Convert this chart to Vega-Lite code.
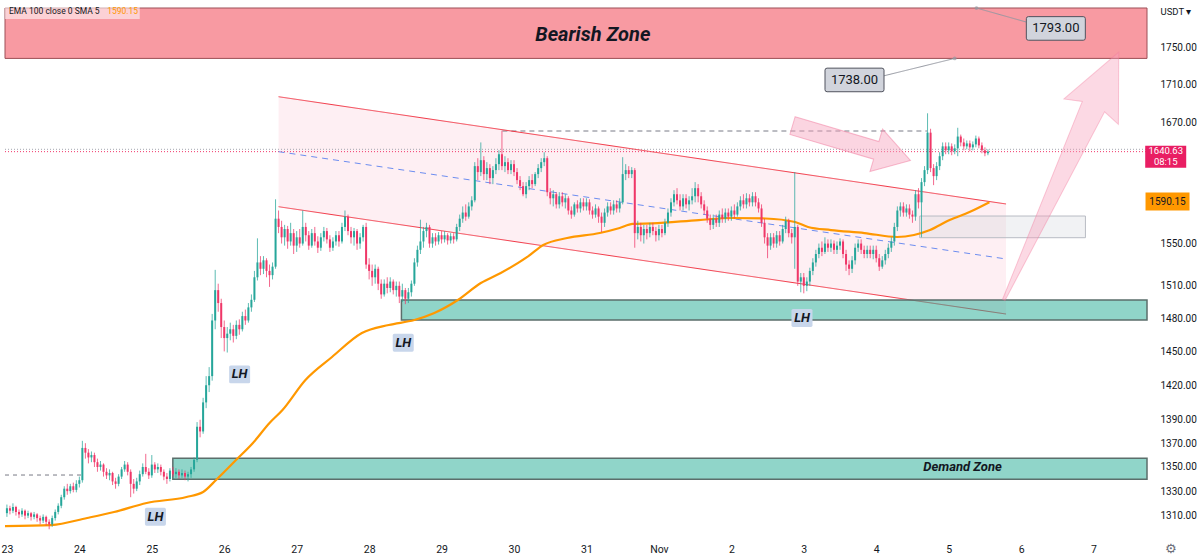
{
"$schema": "https://vega.github.io/schema/vega-lite/v6.json",
"width": 1152, "height": 537,
"autosize": {"type": "none"}, "padding": {"left": 0, "top": 0, "right": 48, "bottom": 22},
"background": "white",
"config": {"view": {"stroke": null}, "font": "Roboto"},
"datasets": {
"candles": [
{"t":"2022-10-23T00:00","o":1312,"h":1319,"l":1309,"c":1316},
{"t":"2022-10-23T01:00","o":1316,"h":1318,"l":1311,"c":1314},
{"t":"2022-10-23T02:00","o":1314,"h":1320,"l":1312,"c":1317},
{"t":"2022-10-23T03:00","o":1317,"h":1318,"l":1310,"c":1313},
{"t":"2022-10-23T04:00","o":1313,"h":1315,"l":1308,"c":1311},
{"t":"2022-10-23T05:00","o":1311,"h":1316,"l":1309,"c":1314},
{"t":"2022-10-23T06:00","o":1314,"h":1315,"l":1307,"c":1310},
{"t":"2022-10-23T07:00","o":1310,"h":1314,"l":1308,"c":1312},
{"t":"2022-10-23T08:00","o":1312,"h":1313,"l":1306,"c":1309},
{"t":"2022-10-23T09:00","o":1309,"h":1313,"l":1307,"c":1311},
{"t":"2022-10-23T10:00","o":1311,"h":1312,"l":1305,"c":1308},
{"t":"2022-10-23T11:00","o":1308,"h":1310,"l":1303,"c":1306},
{"t":"2022-10-23T12:00","o":1306,"h":1311,"l":1304,"c":1309},
{"t":"2022-10-23T13:00","o":1309,"h":1310,"l":1302,"c":1305},
{"t":"2022-10-23T14:00","o":1305,"h":1307,"l":1299,"c":1303},
{"t":"2022-10-23T15:00","o":1303,"h":1310,"l":1301,"c":1308},
{"t":"2022-10-23T16:00","o":1308,"h":1315,"l":1306,"c":1313},
{"t":"2022-10-23T17:00","o":1313,"h":1320,"l":1311,"c":1318},
{"t":"2022-10-23T18:00","o":1318,"h":1327,"l":1316,"c":1325},
{"t":"2022-10-23T19:00","o":1325,"h":1334,"l":1323,"c":1332},
{"t":"2022-10-23T20:00","o":1332,"h":1336,"l":1327,"c":1330},
{"t":"2022-10-23T21:00","o":1330,"h":1336,"l":1328,"c":1334},
{"t":"2022-10-23T22:00","o":1334,"h":1337,"l":1329,"c":1331},
{"t":"2022-10-23T23:00","o":1331,"h":1339,"l":1329,"c":1336},
{"t":"2022-10-24T00:00","o":1336,"h":1342,"l":1333,"c":1339},
{"t":"2022-10-24T01:00","o":1339,"h":1372,"l":1337,"c":1366},
{"t":"2022-10-24T02:00","o":1366,"h":1370,"l":1357,"c":1362},
{"t":"2022-10-24T03:00","o":1362,"h":1365,"l":1353,"c":1358},
{"t":"2022-10-24T04:00","o":1358,"h":1363,"l":1354,"c":1360},
{"t":"2022-10-24T05:00","o":1360,"h":1362,"l":1350,"c":1354},
{"t":"2022-10-24T06:00","o":1354,"h":1357,"l":1346,"c":1350},
{"t":"2022-10-24T07:00","o":1350,"h":1355,"l":1347,"c":1352},
{"t":"2022-10-24T08:00","o":1352,"h":1353,"l":1342,"c":1346},
{"t":"2022-10-24T09:00","o":1346,"h":1349,"l":1340,"c":1343},
{"t":"2022-10-24T10:00","o":1343,"h":1348,"l":1339,"c":1345},
{"t":"2022-10-24T11:00","o":1345,"h":1346,"l":1335,"c":1338},
{"t":"2022-10-24T12:00","o":1338,"h":1341,"l":1332,"c":1336},
{"t":"2022-10-24T13:00","o":1336,"h":1344,"l":1334,"c":1342},
{"t":"2022-10-24T14:00","o":1342,"h":1350,"l":1340,"c":1348},
{"t":"2022-10-24T15:00","o":1348,"h":1355,"l":1346,"c":1352},
{"t":"2022-10-24T16:00","o":1352,"h":1354,"l":1343,"c":1346},
{"t":"2022-10-24T17:00","o":1346,"h":1348,"l":1325,"c":1336},
{"t":"2022-10-24T18:00","o":1336,"h":1340,"l":1328,"c":1332},
{"t":"2022-10-24T19:00","o":1332,"h":1341,"l":1330,"c":1338},
{"t":"2022-10-24T20:00","o":1338,"h":1347,"l":1335,"c":1344},
{"t":"2022-10-24T21:00","o":1344,"h":1353,"l":1342,"c":1350},
{"t":"2022-10-24T22:00","o":1350,"h":1361,"l":1344,"c":1346},
{"t":"2022-10-24T23:00","o":1346,"h":1349,"l":1340,"c":1343},
{"t":"2022-10-25T00:00","o":1343,"h":1360,"l":1341,"c":1352},
{"t":"2022-10-25T01:00","o":1352,"h":1354,"l":1345,"c":1348},
{"t":"2022-10-25T02:00","o":1348,"h":1353,"l":1345,"c":1350},
{"t":"2022-10-25T03:00","o":1350,"h":1352,"l":1343,"c":1346},
{"t":"2022-10-25T04:00","o":1346,"h":1348,"l":1339,"c":1342},
{"t":"2022-10-25T05:00","o":1342,"h":1345,"l":1336,"c":1340},
{"t":"2022-10-25T06:00","o":1340,"h":1349,"l":1338,"c":1347},
{"t":"2022-10-25T07:00","o":1347,"h":1350,"l":1342,"c":1344},
{"t":"2022-10-25T08:00","o":1344,"h":1349,"l":1341,"c":1346},
{"t":"2022-10-25T09:00","o":1346,"h":1348,"l":1340,"c":1343},
{"t":"2022-10-25T10:00","o":1343,"h":1348,"l":1341,"c":1345},
{"t":"2022-10-25T11:00","o":1345,"h":1347,"l":1339,"c":1342},
{"t":"2022-10-25T12:00","o":1342,"h":1346,"l":1338,"c":1344},
{"t":"2022-10-25T13:00","o":1344,"h":1350,"l":1341,"c":1348},
{"t":"2022-10-25T14:00","o":1348,"h":1358,"l":1346,"c":1356},
{"t":"2022-10-25T15:00","o":1356,"h":1388,"l":1354,"c":1384},
{"t":"2022-10-25T16:00","o":1384,"h":1390,"l":1375,"c":1380},
{"t":"2022-10-25T17:00","o":1380,"h":1409,"l":1378,"c":1405},
{"t":"2022-10-25T18:00","o":1405,"h":1428,"l":1400,"c":1420},
{"t":"2022-10-25T19:00","o":1420,"h":1436,"l":1414,"c":1428},
{"t":"2022-10-25T20:00","o":1428,"h":1484,"l":1424,"c":1478},
{"t":"2022-10-25T21:00","o":1478,"h":1525,"l":1470,"c":1506},
{"t":"2022-10-25T22:00","o":1506,"h":1512,"l":1486,"c":1494},
{"t":"2022-10-25T23:00","o":1494,"h":1498,"l":1462,"c":1472},
{"t":"2022-10-26T00:00","o":1472,"h":1478,"l":1450,"c":1462},
{"t":"2022-10-26T01:00","o":1462,"h":1472,"l":1449,"c":1466},
{"t":"2022-10-26T02:00","o":1466,"h":1476,"l":1460,"c":1470},
{"t":"2022-10-26T03:00","o":1470,"h":1474,"l":1458,"c":1464},
{"t":"2022-10-26T04:00","o":1464,"h":1478,"l":1461,"c":1474},
{"t":"2022-10-26T05:00","o":1474,"h":1479,"l":1465,"c":1470},
{"t":"2022-10-26T06:00","o":1470,"h":1486,"l":1468,"c":1482},
{"t":"2022-10-26T07:00","o":1482,"h":1488,"l":1474,"c":1478},
{"t":"2022-10-26T08:00","o":1478,"h":1494,"l":1476,"c":1490},
{"t":"2022-10-26T09:00","o":1490,"h":1502,"l":1486,"c":1497},
{"t":"2022-10-26T10:00","o":1497,"h":1524,"l":1495,"c":1518},
{"t":"2022-10-26T11:00","o":1518,"h":1555,"l":1515,"c":1532},
{"t":"2022-10-26T12:00","o":1532,"h":1538,"l":1520,"c":1526},
{"t":"2022-10-26T13:00","o":1526,"h":1538,"l":1521,"c":1534},
{"t":"2022-10-26T14:00","o":1534,"h":1536,"l":1518,"c":1524},
{"t":"2022-10-26T15:00","o":1524,"h":1530,"l":1509,"c":1520},
{"t":"2022-10-26T16:00","o":1520,"h":1532,"l":1516,"c":1528},
{"t":"2022-10-26T17:00","o":1528,"h":1593,"l":1526,"c":1574},
{"t":"2022-10-26T18:00","o":1574,"h":1582,"l":1560,"c":1566},
{"t":"2022-10-26T19:00","o":1566,"h":1572,"l":1550,"c":1556},
{"t":"2022-10-26T20:00","o":1556,"h":1568,"l":1548,"c":1564},
{"t":"2022-10-26T21:00","o":1564,"h":1567,"l":1545,"c":1552},
{"t":"2022-10-26T22:00","o":1552,"h":1570,"l":1548,"c":1560},
{"t":"2022-10-26T23:00","o":1560,"h":1564,"l":1540,"c":1548},
{"t":"2022-10-27T00:00","o":1548,"h":1562,"l":1542,"c":1556},
{"t":"2022-10-27T01:00","o":1556,"h":1564,"l":1546,"c":1550},
{"t":"2022-10-27T02:00","o":1550,"h":1582,"l":1548,"c":1566},
{"t":"2022-10-27T03:00","o":1566,"h":1570,"l":1552,"c":1558},
{"t":"2022-10-27T04:00","o":1558,"h":1562,"l":1544,"c":1548},
{"t":"2022-10-27T05:00","o":1548,"h":1564,"l":1546,"c":1560},
{"t":"2022-10-27T06:00","o":1560,"h":1566,"l":1548,"c":1552},
{"t":"2022-10-27T07:00","o":1552,"h":1557,"l":1541,"c":1546},
{"t":"2022-10-27T08:00","o":1546,"h":1560,"l":1543,"c":1556},
{"t":"2022-10-27T09:00","o":1556,"h":1566,"l":1552,"c":1562},
{"t":"2022-10-27T10:00","o":1562,"h":1565,"l":1550,"c":1554},
{"t":"2022-10-27T11:00","o":1554,"h":1558,"l":1542,"c":1546},
{"t":"2022-10-27T12:00","o":1546,"h":1556,"l":1543,"c":1552},
{"t":"2022-10-27T13:00","o":1552,"h":1562,"l":1548,"c":1558},
{"t":"2022-10-27T14:00","o":1558,"h":1562,"l":1547,"c":1552},
{"t":"2022-10-27T15:00","o":1552,"h":1570,"l":1550,"c":1566},
{"t":"2022-10-27T16:00","o":1566,"h":1582,"l":1562,"c":1576},
{"t":"2022-10-27T17:00","o":1576,"h":1578,"l":1558,"c":1562},
{"t":"2022-10-27T18:00","o":1562,"h":1566,"l":1550,"c":1556},
{"t":"2022-10-27T19:00","o":1556,"h":1565,"l":1548,"c":1562},
{"t":"2022-10-27T20:00","o":1562,"h":1564,"l":1544,"c":1550},
{"t":"2022-10-27T21:00","o":1550,"h":1560,"l":1545,"c":1556},
{"t":"2022-10-27T22:00","o":1556,"h":1568,"l":1552,"c":1566},
{"t":"2022-10-27T23:00","o":1566,"h":1570,"l":1526,"c":1530},
{"t":"2022-10-28T00:00","o":1530,"h":1536,"l":1516,"c":1524},
{"t":"2022-10-28T01:00","o":1524,"h":1530,"l":1510,"c":1518},
{"t":"2022-10-28T02:00","o":1518,"h":1530,"l":1512,"c":1526},
{"t":"2022-10-28T03:00","o":1526,"h":1528,"l":1506,"c":1512},
{"t":"2022-10-28T04:00","o":1512,"h":1516,"l":1498,"c":1502},
{"t":"2022-10-28T05:00","o":1502,"h":1516,"l":1500,"c":1512},
{"t":"2022-10-28T06:00","o":1512,"h":1518,"l":1503,"c":1508},
{"t":"2022-10-28T07:00","o":1508,"h":1518,"l":1504,"c":1514},
{"t":"2022-10-28T08:00","o":1514,"h":1516,"l":1502,"c":1506},
{"t":"2022-10-28T09:00","o":1506,"h":1514,"l":1500,"c":1510},
{"t":"2022-10-28T10:00","o":1510,"h":1514,"l":1494,"c":1500},
{"t":"2022-10-28T11:00","o":1500,"h":1512,"l":1495,"c":1506},
{"t":"2022-10-28T12:00","o":1506,"h":1508,"l":1493,"c":1498},
{"t":"2022-10-28T13:00","o":1498,"h":1508,"l":1494,"c":1504},
{"t":"2022-10-28T14:00","o":1504,"h":1515,"l":1500,"c":1512},
{"t":"2022-10-28T15:00","o":1512,"h":1536,"l":1510,"c":1532},
{"t":"2022-10-28T16:00","o":1532,"h":1548,"l":1528,"c":1544},
{"t":"2022-10-28T17:00","o":1544,"h":1573,"l":1540,"c":1552},
{"t":"2022-10-28T18:00","o":1552,"h":1566,"l":1546,"c":1562},
{"t":"2022-10-28T19:00","o":1562,"h":1570,"l":1556,"c":1566},
{"t":"2022-10-28T20:00","o":1566,"h":1568,"l":1546,"c":1550},
{"t":"2022-10-28T21:00","o":1550,"h":1560,"l":1546,"c":1556},
{"t":"2022-10-28T22:00","o":1556,"h":1560,"l":1548,"c":1552},
{"t":"2022-10-28T23:00","o":1552,"h":1561,"l":1549,"c":1558},
{"t":"2022-10-29T00:00","o":1558,"h":1562,"l":1550,"c":1554},
{"t":"2022-10-29T01:00","o":1554,"h":1562,"l":1551,"c":1558},
{"t":"2022-10-29T02:00","o":1558,"h":1560,"l":1549,"c":1553},
{"t":"2022-10-29T03:00","o":1553,"h":1560,"l":1550,"c":1557},
{"t":"2022-10-29T04:00","o":1557,"h":1560,"l":1550,"c":1554},
{"t":"2022-10-29T05:00","o":1554,"h":1569,"l":1552,"c":1566},
{"t":"2022-10-29T06:00","o":1566,"h":1578,"l":1562,"c":1574},
{"t":"2022-10-29T07:00","o":1574,"h":1586,"l":1570,"c":1580},
{"t":"2022-10-29T08:00","o":1580,"h":1588,"l":1572,"c":1576},
{"t":"2022-10-29T09:00","o":1576,"h":1590,"l":1574,"c":1586},
{"t":"2022-10-29T10:00","o":1586,"h":1596,"l":1582,"c":1592},
{"t":"2022-10-29T11:00","o":1592,"h":1630,"l":1590,"c":1626},
{"t":"2022-10-29T12:00","o":1626,"h":1634,"l":1612,"c":1620},
{"t":"2022-10-29T13:00","o":1620,"h":1650,"l":1616,"c":1632},
{"t":"2022-10-29T14:00","o":1632,"h":1636,"l":1612,"c":1618},
{"t":"2022-10-29T15:00","o":1618,"h":1630,"l":1612,"c":1624},
{"t":"2022-10-29T16:00","o":1624,"h":1628,"l":1608,"c":1614},
{"t":"2022-10-29T17:00","o":1614,"h":1626,"l":1608,"c":1622},
{"t":"2022-10-29T18:00","o":1622,"h":1634,"l":1618,"c":1628},
{"t":"2022-10-29T19:00","o":1628,"h":1642,"l":1622,"c":1638},
{"t":"2022-10-29T20:00","o":1638,"h":1662,"l":1622,"c":1626},
{"t":"2022-10-29T21:00","o":1626,"h":1636,"l":1620,"c":1630},
{"t":"2022-10-29T22:00","o":1630,"h":1634,"l":1618,"c":1622},
{"t":"2022-10-29T23:00","o":1622,"h":1632,"l":1618,"c":1628},
{"t":"2022-10-30T00:00","o":1628,"h":1632,"l":1616,"c":1620},
{"t":"2022-10-30T01:00","o":1620,"h":1624,"l":1608,"c":1612},
{"t":"2022-10-30T02:00","o":1612,"h":1616,"l":1602,"c":1606},
{"t":"2022-10-30T03:00","o":1606,"h":1610,"l":1596,"c":1598},
{"t":"2022-10-30T04:00","o":1598,"h":1610,"l":1594,"c":1606},
{"t":"2022-10-30T05:00","o":1606,"h":1616,"l":1602,"c":1612},
{"t":"2022-10-30T06:00","o":1612,"h":1618,"l":1604,"c":1608},
{"t":"2022-10-30T07:00","o":1608,"h":1620,"l":1606,"c":1618},
{"t":"2022-10-30T08:00","o":1618,"h":1628,"l":1614,"c":1624},
{"t":"2022-10-30T09:00","o":1624,"h":1634,"l":1620,"c":1630},
{"t":"2022-10-30T10:00","o":1630,"h":1640,"l":1626,"c":1634},
{"t":"2022-10-30T11:00","o":1634,"h":1636,"l":1596,"c":1600},
{"t":"2022-10-30T12:00","o":1600,"h":1604,"l":1588,"c":1594},
{"t":"2022-10-30T13:00","o":1594,"h":1602,"l":1586,"c":1598},
{"t":"2022-10-30T14:00","o":1598,"h":1600,"l":1584,"c":1588},
{"t":"2022-10-30T15:00","o":1588,"h":1600,"l":1584,"c":1596},
{"t":"2022-10-30T16:00","o":1596,"h":1600,"l":1586,"c":1590},
{"t":"2022-10-30T17:00","o":1590,"h":1598,"l":1584,"c":1594},
{"t":"2022-10-30T18:00","o":1594,"h":1596,"l":1578,"c":1582},
{"t":"2022-10-30T19:00","o":1582,"h":1586,"l":1574,"c":1578},
{"t":"2022-10-30T20:00","o":1578,"h":1590,"l":1576,"c":1588},
{"t":"2022-10-30T21:00","o":1588,"h":1592,"l":1580,"c":1584},
{"t":"2022-10-30T22:00","o":1584,"h":1594,"l":1580,"c":1590},
{"t":"2022-10-30T23:00","o":1590,"h":1594,"l":1582,"c":1586},
{"t":"2022-10-31T00:00","o":1586,"h":1594,"l":1582,"c":1590},
{"t":"2022-10-31T01:00","o":1590,"h":1593,"l":1578,"c":1582},
{"t":"2022-10-31T02:00","o":1582,"h":1586,"l":1574,"c":1578},
{"t":"2022-10-31T03:00","o":1578,"h":1588,"l":1575,"c":1584},
{"t":"2022-10-31T04:00","o":1584,"h":1586,"l":1570,"c":1576},
{"t":"2022-10-31T05:00","o":1576,"h":1580,"l":1561,"c":1570},
{"t":"2022-10-31T06:00","o":1570,"h":1584,"l":1566,"c":1580},
{"t":"2022-10-31T07:00","o":1580,"h":1590,"l":1576,"c":1586},
{"t":"2022-10-31T08:00","o":1586,"h":1590,"l":1578,"c":1582},
{"t":"2022-10-31T09:00","o":1582,"h":1592,"l":1578,"c":1588},
{"t":"2022-10-31T10:00","o":1588,"h":1592,"l":1580,"c":1584},
{"t":"2022-10-31T11:00","o":1584,"h":1594,"l":1580,"c":1590},
{"t":"2022-10-31T12:00","o":1590,"h":1635,"l":1588,"c":1618},
{"t":"2022-10-31T13:00","o":1618,"h":1628,"l":1612,"c":1622},
{"t":"2022-10-31T14:00","o":1622,"h":1626,"l":1614,"c":1618},
{"t":"2022-10-31T15:00","o":1618,"h":1625,"l":1614,"c":1622},
{"t":"2022-10-31T16:00","o":1622,"h":1624,"l":1546,"c":1560},
{"t":"2022-10-31T17:00","o":1560,"h":1572,"l":1554,"c":1566},
{"t":"2022-10-31T18:00","o":1566,"h":1570,"l":1552,"c":1558},
{"t":"2022-10-31T19:00","o":1558,"h":1568,"l":1550,"c":1564},
{"t":"2022-10-31T20:00","o":1564,"h":1568,"l":1554,"c":1560},
{"t":"2022-10-31T21:00","o":1560,"h":1570,"l":1556,"c":1566},
{"t":"2022-10-31T22:00","o":1566,"h":1570,"l":1558,"c":1562},
{"t":"2022-10-31T23:00","o":1562,"h":1566,"l":1552,"c":1558},
{"t":"2022-11-01T00:00","o":1558,"h":1568,"l":1553,"c":1564},
{"t":"2022-11-01T01:00","o":1564,"h":1568,"l":1556,"c":1560},
{"t":"2022-11-01T02:00","o":1560,"h":1574,"l":1558,"c":1570},
{"t":"2022-11-01T03:00","o":1570,"h":1584,"l":1566,"c":1580},
{"t":"2022-11-01T04:00","o":1580,"h":1594,"l":1576,"c":1590},
{"t":"2022-11-01T05:00","o":1590,"h":1602,"l":1586,"c":1598},
{"t":"2022-11-01T06:00","o":1598,"h":1604,"l":1588,"c":1592},
{"t":"2022-11-01T07:00","o":1592,"h":1598,"l":1582,"c":1586},
{"t":"2022-11-01T08:00","o":1586,"h":1598,"l":1582,"c":1594},
{"t":"2022-11-01T09:00","o":1594,"h":1598,"l":1584,"c":1588},
{"t":"2022-11-01T10:00","o":1588,"h":1596,"l":1582,"c":1592},
{"t":"2022-11-01T11:00","o":1592,"h":1604,"l":1588,"c":1596},
{"t":"2022-11-01T12:00","o":1596,"h":1610,"l":1590,"c":1604},
{"t":"2022-11-01T13:00","o":1604,"h":1608,"l":1590,"c":1596},
{"t":"2022-11-01T14:00","o":1596,"h":1600,"l":1584,"c":1588},
{"t":"2022-11-01T15:00","o":1588,"h":1592,"l":1578,"c":1582},
{"t":"2022-11-01T16:00","o":1582,"h":1586,"l":1570,"c":1574},
{"t":"2022-11-01T17:00","o":1574,"h":1578,"l":1563,"c":1568},
{"t":"2022-11-01T18:00","o":1568,"h":1578,"l":1564,"c":1574},
{"t":"2022-11-01T19:00","o":1574,"h":1578,"l":1566,"c":1570},
{"t":"2022-11-01T20:00","o":1570,"h":1582,"l":1566,"c":1578},
{"t":"2022-11-01T21:00","o":1578,"h":1584,"l":1570,"c":1574},
{"t":"2022-11-01T22:00","o":1574,"h":1584,"l":1570,"c":1580},
{"t":"2022-11-01T23:00","o":1580,"h":1584,"l":1572,"c":1576},
{"t":"2022-11-02T00:00","o":1576,"h":1586,"l":1572,"c":1582},
{"t":"2022-11-02T01:00","o":1582,"h":1588,"l":1574,"c":1578},
{"t":"2022-11-02T02:00","o":1578,"h":1590,"l":1576,"c":1586},
{"t":"2022-11-02T03:00","o":1586,"h":1596,"l":1582,"c":1592},
{"t":"2022-11-02T04:00","o":1592,"h":1598,"l":1584,"c":1588},
{"t":"2022-11-02T05:00","o":1588,"h":1599,"l":1584,"c":1594},
{"t":"2022-11-02T06:00","o":1594,"h":1598,"l":1586,"c":1590},
{"t":"2022-11-02T07:00","o":1590,"h":1600,"l":1586,"c":1596},
{"t":"2022-11-02T08:00","o":1596,"h":1600,"l":1586,"c":1590},
{"t":"2022-11-02T09:00","o":1590,"h":1594,"l":1580,"c":1584},
{"t":"2022-11-02T10:00","o":1584,"h":1588,"l":1566,"c":1570},
{"t":"2022-11-02T11:00","o":1570,"h":1574,"l":1550,"c":1556},
{"t":"2022-11-02T12:00","o":1556,"h":1560,"l":1536,"c":1548},
{"t":"2022-11-02T13:00","o":1548,"h":1560,"l":1544,"c":1556},
{"t":"2022-11-02T14:00","o":1556,"h":1560,"l":1546,"c":1550},
{"t":"2022-11-02T15:00","o":1550,"h":1562,"l":1546,"c":1558},
{"t":"2022-11-02T16:00","o":1558,"h":1562,"l":1548,"c":1552},
{"t":"2022-11-02T17:00","o":1552,"h":1568,"l":1550,"c":1564},
{"t":"2022-11-02T18:00","o":1564,"h":1576,"l":1560,"c":1572},
{"t":"2022-11-02T19:00","o":1572,"h":1574,"l":1556,"c":1560},
{"t":"2022-11-02T20:00","o":1560,"h":1564,"l":1550,"c":1556},
{"t":"2022-11-02T21:00","o":1556,"h":1620,"l":1526,"c":1566},
{"t":"2022-11-02T22:00","o":1566,"h":1568,"l":1510,"c":1514},
{"t":"2022-11-02T23:00","o":1514,"h":1522,"l":1504,"c":1518},
{"t":"2022-11-03T00:00","o":1518,"h":1522,"l":1503,"c":1510},
{"t":"2022-11-03T01:00","o":1510,"h":1518,"l":1505,"c":1514},
{"t":"2022-11-03T02:00","o":1514,"h":1527,"l":1510,"c":1524},
{"t":"2022-11-03T03:00","o":1524,"h":1536,"l":1520,"c":1532},
{"t":"2022-11-03T04:00","o":1532,"h":1544,"l":1528,"c":1540},
{"t":"2022-11-03T05:00","o":1540,"h":1550,"l":1536,"c":1546},
{"t":"2022-11-03T06:00","o":1546,"h":1552,"l":1538,"c":1542},
{"t":"2022-11-03T07:00","o":1542,"h":1556,"l":1540,"c":1550},
{"t":"2022-11-03T08:00","o":1550,"h":1554,"l":1542,"c":1546},
{"t":"2022-11-03T09:00","o":1546,"h":1554,"l":1542,"c":1550},
{"t":"2022-11-03T10:00","o":1550,"h":1553,"l":1540,"c":1544},
{"t":"2022-11-03T11:00","o":1544,"h":1552,"l":1540,"c":1548},
{"t":"2022-11-03T12:00","o":1548,"h":1555,"l":1544,"c":1552},
{"t":"2022-11-03T13:00","o":1552,"h":1554,"l":1536,"c":1540},
{"t":"2022-11-03T14:00","o":1540,"h":1544,"l":1524,"c":1530},
{"t":"2022-11-03T15:00","o":1530,"h":1534,"l":1520,"c":1526},
{"t":"2022-11-03T16:00","o":1526,"h":1538,"l":1522,"c":1534},
{"t":"2022-11-03T17:00","o":1534,"h":1550,"l":1530,"c":1546},
{"t":"2022-11-03T18:00","o":1546,"h":1554,"l":1542,"c":1550},
{"t":"2022-11-03T19:00","o":1550,"h":1554,"l":1540,"c":1544},
{"t":"2022-11-03T20:00","o":1544,"h":1548,"l":1536,"c":1540},
{"t":"2022-11-03T21:00","o":1540,"h":1548,"l":1536,"c":1544},
{"t":"2022-11-03T22:00","o":1544,"h":1548,"l":1536,"c":1540},
{"t":"2022-11-03T23:00","o":1540,"h":1548,"l":1535,"c":1544},
{"t":"2022-11-04T00:00","o":1544,"h":1548,"l":1532,"c":1536},
{"t":"2022-11-04T01:00","o":1536,"h":1540,"l":1524,"c":1528},
{"t":"2022-11-04T02:00","o":1528,"h":1538,"l":1526,"c":1534},
{"t":"2022-11-04T03:00","o":1534,"h":1544,"l":1530,"c":1540},
{"t":"2022-11-04T04:00","o":1540,"h":1550,"l":1536,"c":1546},
{"t":"2022-11-04T05:00","o":1546,"h":1556,"l":1542,"c":1552},
{"t":"2022-11-04T06:00","o":1552,"h":1570,"l":1548,"c":1566},
{"t":"2022-11-04T07:00","o":1566,"h":1586,"l":1562,"c":1582},
{"t":"2022-11-04T08:00","o":1582,"h":1590,"l":1576,"c":1586},
{"t":"2022-11-04T09:00","o":1586,"h":1590,"l":1576,"c":1580},
{"t":"2022-11-04T10:00","o":1580,"h":1588,"l":1576,"c":1584},
{"t":"2022-11-04T11:00","o":1584,"h":1588,"l":1574,"c":1578},
{"t":"2022-11-04T12:00","o":1578,"h":1582,"l":1570,"c":1576},
{"t":"2022-11-04T13:00","o":1576,"h":1602,"l":1572,"c":1598},
{"t":"2022-11-04T14:00","o":1598,"h":1604,"l":1584,"c":1590},
{"t":"2022-11-04T15:00","o":1590,"h":1614,"l":1556,"c":1610},
{"t":"2022-11-04T16:00","o":1610,"h":1626,"l":1606,"c":1622},
{"t":"2022-11-04T17:00","o":1622,"h":1680,"l":1618,"c":1660},
{"t":"2022-11-04T18:00","o":1660,"h":1664,"l":1620,"c":1624},
{"t":"2022-11-04T19:00","o":1624,"h":1628,"l":1607,"c":1616},
{"t":"2022-11-04T20:00","o":1616,"h":1630,"l":1612,"c":1626},
{"t":"2022-11-04T21:00","o":1626,"h":1640,"l":1622,"c":1636},
{"t":"2022-11-04T22:00","o":1636,"h":1650,"l":1632,"c":1646},
{"t":"2022-11-04T23:00","o":1646,"h":1650,"l":1638,"c":1642},
{"t":"2022-11-05T00:00","o":1642,"h":1650,"l":1638,"c":1646},
{"t":"2022-11-05T01:00","o":1646,"h":1649,"l":1637,"c":1641},
{"t":"2022-11-05T02:00","o":1641,"h":1648,"l":1638,"c":1644},
{"t":"2022-11-05T03:00","o":1644,"h":1665,"l":1636,"c":1656},
{"t":"2022-11-05T04:00","o":1656,"h":1658,"l":1646,"c":1650},
{"t":"2022-11-05T05:00","o":1650,"h":1654,"l":1642,"c":1646},
{"t":"2022-11-05T06:00","o":1646,"h":1652,"l":1643,"c":1649},
{"t":"2022-11-05T07:00","o":1649,"h":1652,"l":1641,"c":1645},
{"t":"2022-11-05T08:00","o":1645,"h":1651,"l":1642,"c":1648},
{"t":"2022-11-05T09:00","o":1648,"h":1657,"l":1645,"c":1654},
{"t":"2022-11-05T10:00","o":1654,"h":1656,"l":1644,"c":1647},
{"t":"2022-11-05T11:00","o":1647,"h":1650,"l":1639,"c":1642},
{"t":"2022-11-05T12:00","o":1642,"h":1645,"l":1636,"c":1639},
{"t":"2022-11-05T13:00","o":1639,"h":1643,"l":1637,"c":1640.63}
]
},
"encoding": {
"x": {"field": "t", "type": "temporal",
 "scale": {"domain": [{"year": 2022, "month": 10, "date": 22, "hours": 23, "minutes": 22}, {"year": 2022, "month": 11, "date": 7, "hours": 17, "minutes": 42}]},
 "axis": {"title": null, "grid": false, "ticks": false, "domain": false, "labelFlush": false, "labelOverlap": false, "labelFontSize": 10.5, "labelColor": "#131722", "labelPadding": 7,
  "values": [{"year":2022,"month":10,"date":23},{"year":2022,"month":10,"date":24},{"year":2022,"month":10,"date":25},{"year":2022,"month":10,"date":26},{"year":2022,"month":10,"date":27},{"year":2022,"month":10,"date":28},{"year":2022,"month":10,"date":29},{"year":2022,"month":10,"date":30},{"year":2022,"month":10,"date":31},{"year":2022,"month":11,"date":1},{"year":2022,"month":11,"date":2},{"year":2022,"month":11,"date":3},{"year":2022,"month":11,"date":4},{"year":2022,"month":11,"date":5},{"year":2022,"month":11,"date":6},{"year":2022,"month":11,"date":7}],
  "labelExpr": "date(datum.value) == 1 ? 'Nov' : '' + date(datum.value)"}},
"y": {"field": "p", "type": "quantitative",
 "scale": {"type": "log", "domain": [1292.8, 1801.9], "nice": false},
 "axis": {"orient": "right", "title": "USDT ▾", "titleAngle": 0, "titleX": 8, "titleY": 11, "titleAlign": "left", "titleBaseline": "middle", "titleFontSize": 9.5, "titleFontWeight": "normal", "titleColor": "#131722",
  "values": [1310, 1330, 1350, 1370, 1390, 1420, 1450, 1480, 1510, 1550, 1670, 1710, 1750], "format": ".2f", "grid": false, "ticks": false, "domain": false, "labelFontSize": 10, "labelColor": "#131722", "labelPadding": 8}}
},
"layer": [
{"data": {"values": [{"t": "2022-10-22T23:22", "t2": "2022-11-07T17:42", "p": 1738, "p2": 1793}]},
 "mark": {"type": "rect", "fill": "#f23645", "fillOpacity": 0.5, "stroke": "#9c4f56", "strokeWidth": 1},
 "encoding": {"x2": {"field": "t2"}, "y2": {"field": "p2"}}},
{"data": {"values": [{"t": "2022-10-22T23:22", "t2": "2022-10-24T20:00", "p": 1780.9, "p2": 1798.6}]},
 "mark": {"type": "rect", "fill": "white", "fillOpacity": 0.55},
 "encoding": {"x2": {"field": "t2"}, "y2": {"field": "p2"}}},
{"data": {"values": [{"t": "2022-10-26T18:00", "p": 1697.3, "p2": 1585.7}, {"t": "2022-11-05T19:00", "p": 1588.4, "p2": 1483.9}]},
 "mark": {"type": "area", "color": "#f23669", "opacity": 0.08},
 "encoding": {"y2": {"field": "p2"}}},
{"data": {"values": [{"t": "2022-11-04T14:24", "t2": "2022-11-06T21:18", "p": 1555.6, "p2": 1576.6}]},
 "mark": {"type": "rect", "fill": "#d1d4dc", "fillOpacity": 0.3, "stroke": "#b8bbc3", "strokeWidth": 1},
 "encoding": {"x2": {"field": "t2"}, "y2": {"field": "p2"}}},
{"data": {"values": [
 {"k": "pg", "t": "2022-10-22T23:22", "t2": "2022-11-07T17:42", "p": 1643, "p2": 1643},
 {"k": "pp", "t": "2022-10-22T23:22", "t2": "2022-11-07T17:42", "p": 1640.63, "p2": 1640.63},
 {"k": "hi", "t": "2022-10-29T20:09", "t2": "2022-11-04T16:48", "p": 1661.7, "p2": 1661.7},
 {"k": "old", "t": "2022-10-22T23:22", "t2": "2022-10-24T00:40", "p": 1343.3, "p2": 1343.3},
 {"k": "ch", "t": "2022-10-26T18:00", "t2": "2022-11-05T19:00", "p": 1697.3, "p2": 1588.4},
 {"k": "ch", "t": "2022-10-26T18:00", "t2": "2022-11-05T19:00", "p": 1585.7, "p2": 1483.9},
 {"k": "mid", "t": "2022-10-26T18:00", "t2": "2022-11-05T19:00", "p": 1640.6, "p2": 1535.3},
 {"k": "cl", "t": "2022-11-04T02:18", "t2": "2022-11-05T02:00", "p": 1719.2, "p2": 1738},
 {"k": "cl", "t": "2022-11-06T01:36", "t2": "2022-11-05T09:12", "p": 1777.6, "p2": 1793}]},
 "mark": {"type": "rule"},
 "encoding": {"x2": {"field": "t2"}, "y2": {"field": "p2"},
  "color": {"field": "k", "type": "nominal", "legend": null, "scale": {"domain": ["pg", "pp", "hi", "old", "ch", "mid", "cl"], "range": ["#a3a6af", "#f23669", "#787b86", "#787b86", "#f23645", "#6d8df0", "#9598a1"]}},
  "strokeDash": {"field": "k", "type": "nominal", "legend": null, "scale": {"domain": ["pg", "pp", "hi", "old", "ch", "mid", "cl"], "range": [[1, 2], [1, 2], [5, 4], [4, 4], [1, 0], [6, 5], [1, 0]]}},
  "strokeWidth": {"field": "k", "type": "nominal", "legend": null, "scale": {"domain": ["pg", "pp", "hi", "old", "ch", "mid", "cl"], "range": [1, 1, 1, 1, 1.6, 1.4, 1]}}}},
{"data": {"values": [{"t": "2022-10-28T10:42", "t2": "2022-11-07T17:42", "p": 1478.4, "p2": 1496.8}, {"t": "2022-10-25T06:58", "t2": "2022-11-07T17:42", "p": 1339.8, "p2": 1357.3}]},
 "mark": {"type": "rect", "fill": "#22ab94", "fillOpacity": 0.5, "stroke": "#5b6e6b", "strokeWidth": 1.5},
 "encoding": {"x2": {"field": "t2"}, "y2": {"field": "p2"}}},
{"data": {"values": [
 {"t":"2022-10-22T23:22","p":1301.6},{"t":"2022-10-23T14:42","p":1302.4},{"t":"2022-10-24T02:36","p":1308.1},{"t":"2022-10-24T11:30","p":1312.9},
 {"t":"2022-10-24T22:18","p":1320.3},{"t":"2022-10-25T11:30","p":1325.2},{"t":"2022-10-25T17:00","p":1329.3},{"t":"2022-10-25T21:18","p":1339.2},
 {"t":"2022-10-26T03:54","p":1355.8},{"t":"2022-10-26T09:30","p":1370.2},{"t":"2022-10-26T15:00","p":1387.2},{"t":"2022-10-26T19:18","p":1398.4},
 {"t":"2022-10-27T02:54","p":1424.6},{"t":"2022-10-27T11:42","p":1445.0},{"t":"2022-10-27T21:36","p":1466.6},{"t":"2022-10-28T06:30","p":1473.9},
 {"t":"2022-10-28T15:00","p":1478.4},{"t":"2022-10-28T21:36","p":1484.8},{"t":"2022-10-29T05:24","p":1496.8},{"t":"2022-10-29T13:00","p":1512.6},
 {"t":"2022-10-29T19:36","p":1522.0},{"t":"2022-10-30T04:24","p":1537.2},{"t":"2022-10-30T09:42","p":1548.6},{"t":"2022-10-30T17:36","p":1555.3},
 {"t":"2022-10-31T04:24","p":1560.1},{"t":"2022-10-31T11:00","p":1565.0},{"t":"2022-10-31T15:18","p":1568.9},{"t":"2022-10-31T21:48","p":1569.5},
 {"t":"2022-11-01T13:12","p":1572.7},{"t":"2022-11-02T00:06","p":1574.7},{"t":"2022-11-02T11:18","p":1574.2},{"t":"2022-11-02T21:06","p":1570.8},
 {"t":"2022-11-03T01:24","p":1566.0},{"t":"2022-11-03T09:00","p":1563.0},{"t":"2022-11-03T20:06","p":1560.1},{"t":"2022-11-04T06:54","p":1556.3},
 {"t":"2022-11-04T12:30","p":1558.2},{"t":"2022-11-04T17:48","p":1563.0},{"t":"2022-11-05T00:18","p":1572.7},{"t":"2022-11-05T06:54","p":1580.5},
 {"t":"2022-11-05T13:30","p":1590.15}]},
 "mark": {"type": "line", "color": "#ff9800", "strokeWidth": 2.2, "interpolate": "monotone"},
 "encoding": {}},
{"data": {"name": "candles"},
 "mark": {"type": "rule", "strokeWidth": 1, "opacity": 0.75},
 "encoding": {"y": {"field": "l", "type": "quantitative"}, "y2": {"field": "h"},
  "color": {"condition": {"test": "datum.c >= datum.o", "value": "#26a69a"}, "value": "#ef3768"}}},
{"data": {"name": "candles"},
 "mark": {"type": "bar", "width": 2},
 "encoding": {"y": {"field": "o", "type": "quantitative"}, "y2": {"field": "c"},
  "color": {"condition": {"test": "datum.c >= datum.o", "value": "#26a69a"}, "value": "#ef3768"}}},
{"data": {"values": [{"t": "2022-11-03T15:48", "p": 1649.4}]},
 "mark": {"type": "point", "shape": "M-1,-0.15L0.42,-0.15L0.42,-0.36L1,0L0.42,0.36L0.42,0.15L-1,0.15Z", "size": 15129, "angle": 16.5, "filled": true, "fill": "#f7a1bc", "fillOpacity": 0.45, "stroke": "#f27a9e", "strokeOpacity": 0.5, "strokeWidth": 1}},
{"data": {"values": [{"t": "2022-11-06T13:18", "p": 1616.1}]},
 "mark": {"type": "point", "shape": "M-1,-0.01L0.56,-0.09L0.52,-0.22L1,0L0.52,0.22L0.56,0.09L-1,0.01Z", "size": 74529, "angle": -65.1, "filled": true, "fill": "#f7a1bc", "fillOpacity": 0.4, "stroke": "#f27a9e", "strokeOpacity": 0.4, "strokeWidth": 1}},
{"data": {"values": [{"t": "2022-11-05T02:00", "p": 1738}, {"t": "2022-11-05T09:12", "p": 1793}]},
 "mark": {"type": "point", "shape": "circle", "size": 14, "filled": true, "color": "#9598a1"}},
{"data": {"values": [{"t": "2022-11-03T16:48", "p": 1715.0, "txt": "1738.00"}, {"t": "2022-11-06T11:30", "p": 1770.5, "txt": "1793.00"}]},
 "layer": [
  {"mark": {"type": "point", "shape": "M-0.93,-0.4L0.93,-0.4Q1,-0.4 1,-0.33L1,0.33Q1,0.4 0.93,0.4L-0.93,0.4Q-1,0.4 -1,0.33L-1,-0.33Q-1,-0.4 -0.93,-0.4Z", "size": 3481, "filled": true, "fill": "#d1d4dc", "stroke": "#50535e", "strokeWidth": 1, "opacity": 1}},
  {"mark": {"type": "text", "fontSize": 13, "color": "#131722", "align": "center", "baseline": "middle"}, "encoding": {"text": {"field": "txt"}}}
 ]},
{"data": {"values": [{"t": "2022-10-26T05:06", "p": 1429.6}, {"t": "2022-10-28T11:18", "p": 1457.8}, {"t": "2022-11-02T23:24", "p": 1480.3}, {"t": "2022-10-25T01:12", "p": 1309.1}]},
 "layer": [
  {"mark": {"type": "point", "shape": "M-0.85,-0.85L0.85,-0.85Q1,-0.85 1,-0.7L1,0.7Q1,0.85 0.85,0.85L-0.85,0.85Q-1,0.85 -1,0.7L-1,-0.7Q-1,-0.85 -0.85,-0.85Z", "size": 441, "filled": true, "fill": "#c8d6eb", "opacity": 1}},
  {"mark": {"type": "text", "text": "LH", "fontSize": 13, "fontWeight": "bold", "fontStyle": "italic", "color": "#131722", "align": "center", "baseline": "middle"}}
 ]},
{"data": {"values": [{"t": "2022-10-31T02:06", "p": 1763.4}]},
 "mark": {"type": "text", "text": "Bearish Zone", "fontSize": 20, "fontWeight": "bold", "fontStyle": "italic", "color": "#131722", "align": "center", "baseline": "middle"}},
{"data": {"values": [{"t": "2022-11-05T04:36", "p": 1350}]},
 "mark": {"type": "text", "text": "Demand Zone", "fontSize": 13, "fontWeight": "bold", "fontStyle": "italic", "color": "#131722", "align": "center", "baseline": "middle"}},
{"data": {"values": [{"t": "2022-10-23T00:41", "p": 1789.4}]},
 "mark": {"type": "text", "text": "EMA 100 close 0 SMA 5", "fontSize": 8.5, "color": "#131722", "align": "left", "baseline": "middle"}},
{"data": {"values": [{"t": "2022-10-24T09:12", "p": 1789.4}]},
 "mark": {"type": "text", "text": "1590.15", "fontSize": 8.5, "color": "#ff9800", "align": "left", "baseline": "middle"}},
{"data": {"values": [{"t": "2022-11-07T23:54", "p": 1635.5}]},
 "mark": {"type": "point", "shape": "M-1,-0.54L1,-0.54L1,0.54L-1,0.54Z", "size": 1681, "filled": true, "fill": "#e91e63", "opacity": 1}},
{"data": {"values": [{"t": "2022-11-08T00:30", "p": 1590.9}]},
 "mark": {"type": "point", "shape": "M-1,-0.41L1,-0.41L1,0.41L-1,0.41Z", "size": 1936, "filled": true, "fill": "#ff9800", "opacity": 1}},
{"data": {"values": [{"t": "2022-11-07T23:54", "p": 1641.3, "txt": "1640.63"}, {"t": "2022-11-07T23:54", "p": 1630.0, "txt": "08:15"}]},
 "mark": {"type": "text", "fontSize": 9.5, "color": "white", "align": "center", "baseline": "middle"},
 "encoding": {"text": {"field": "txt"}}},
{"data": {"values": [{"t": "2022-11-08T00:30", "p": 1590.15}]},
 "mark": {"type": "text", "text": "1590.15", "fontSize": 10, "color": "#131722", "align": "center", "baseline": "middle"}},
{"data": {"values": [{"t": "2022-11-08T01:36", "p": 1283.2}]},
 "mark": {"type": "text", "text": "⚙", "fontSize": 13, "font": "DejaVu Sans", "color": "#6a6d78", "align": "center", "baseline": "middle"}}
]
}
